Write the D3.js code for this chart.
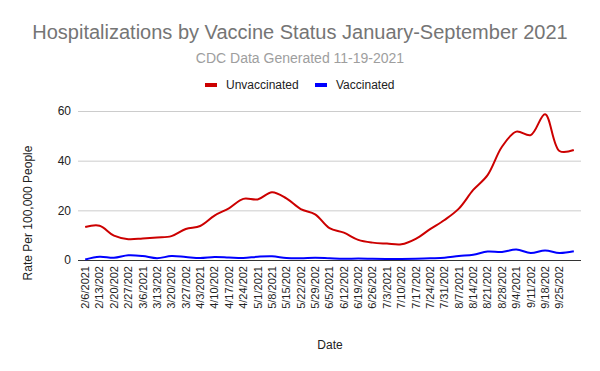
<!DOCTYPE html>
<html>
<head>
<meta charset="utf-8">
<script src="https://cdn.jsdelivr.net/npm/d3@7"></script>
<style>
  html, body { margin: 0; padding: 0; background: #fff; }
  svg { display: block; font-family: Arial, "Liberation Sans", sans-serif; }
</style>
</head>
<body>
<svg id="chart" width="600" height="371"></svg>
<script>
// weekly CDC dates (last week has no label on the axis)
const dates = [
  "2/6/2021", "2/13/2021", "2/20/2021", "2/27/2021", "3/6/2021", "3/13/2021", "3/20/2021",
  "3/27/2021", "4/3/2021", "4/10/2021", "4/17/2021", "4/24/2021", "5/1/2021", "5/8/2021",
  "5/15/2021", "5/22/2021", "5/29/2021", "6/5/2021", "6/12/2021", "6/19/2021", "6/26/2021",
  "7/3/2021", "7/10/2021", "7/17/2021", "7/24/2021", "7/31/2021", "8/7/2021", "8/14/2021",
  "8/21/2021", "8/28/2021", "9/4/2021", "9/11/2021", "9/18/2021", "9/25/2021", "10/2/2021"
];

const unvaccinated = [
  13.3, 13.8, 9.8, 8.4, 8.7, 9.1, 9.6, 12.5, 13.7, 17.9, 20.8, 24.6, 24.4, 27.3, 24.8,
  20.5, 18.4, 12.8, 11.0, 8.1, 7.0, 6.6, 6.3, 8.5, 12.4, 16.1, 20.7, 28.2, 34.2, 45.6,
  51.7, 50.3, 58.7, 43.9, 44.3
];

const vaccinated = [
  0.2, 1.3, 0.9, 1.9, 1.6, 0.7, 1.6, 1.2, 0.8, 1.2, 1.0, 0.8, 1.3, 1.5, 0.8,
  0.7, 0.9, 0.7, 0.5, 0.6, 0.5, 0.4, 0.4, 0.5, 0.7, 0.9, 1.6, 2.1, 3.4, 3.2,
  4.2, 2.8, 3.8, 2.8, 3.5
];

const yTicks = [0, 20, 40, 60];

const seriesList = [
  { name: "Unvaccinated", values: unvaccinated, color: "#cc0000" },
  { name: "Vaccinated", values: vaccinated, color: "#0000ff" }
];

(function () {
  const svg = d3.select("#chart");

  const plot = { left: 78, right: 581, top: 111, bottom: 260 };

  const x = d3.scaleBand()
    .domain(dates)
    .range([plot.left, plot.right]);

  const y = d3.scaleLinear()
    .domain([0, 60])
    .range([plot.bottom, plot.top]);

  // 標題
  svg.append("text")
    .attr("x", 300).attr("y", 39)
    .attr("text-anchor", "middle")
    .attr("font-size", 20)
    .attr("fill", "#757575")
    .text("Hospitalizations by Vaccine Status January-September 2021");

  svg.append("text")
    .attr("x", 300).attr("y", 63)
    .attr("text-anchor", "middle")
    .attr("font-size", 14)
    .attr("fill", "#9e9e9e")
    .text("CDC Data Generated 11-19-2021");

  // legend
  const legendPos = [205, 315];
  const legend = svg.append("g").attr("class", "legend");
  seriesList.forEach((s, i) => {
    const g = legend.append("g").attr("transform", `translate(${legendPos[i]},85)`);
    g.append("rect")
      .attr("x", 0).attr("y", -2)
      .attr("width", 12).attr("height", 4)
      .attr("fill", s.color);
    g.append("text")
      .attr("x", 21).attr("y", 0)
      .attr("dy", "0.35em")
      .attr("font-size", 12)
      .attr("fill", "#222")
      .text(s.name);
  });

  // gridlines + y labels
  const yAxis = svg.append("g")
    .attr("transform", `translate(${plot.left},0)`)
    .call(d3.axisLeft(y).tickValues(yTicks).tickSize(-(plot.right - plot.left)).tickPadding(7));
  yAxis.select(".domain").remove();
  yAxis.selectAll(".tick line").attr("stroke", "#cccccc");
  yAxis.selectAll(".tick text")
    .attr("font-size", 12)
    .attr("font-family", "Arial, 'Liberation Sans', sans-serif")
    .attr("fill", "#222");

  // x axis, 標籤旋轉 + 截斷
  const xAxis = svg.append("g")
    .attr("transform", `translate(0,${plot.bottom})`)
    .call(d3.axisBottom(x)
      .tickValues(dates.slice(0, -1))
      .tickSize(0)
      .tickFormat(d => d.slice(0, 8)));
  xAxis.select(".domain")
    .attr("stroke", "#333")
    .attr("d", `M${plot.left},0.5H${plot.right}`);
  xAxis.selectAll(".tick text")
    .attr("font-size", 11)
    .attr("font-family", "Arial, 'Liberation Sans', sans-serif")
    .attr("fill", "#222")
    .attr("text-anchor", "end")
    .attr("transform", "rotate(-90)")
    .attr("x", -6)
    .attr("y", 0)
    .attr("dy", "0.35em");

  // axis titles
  svg.append("text")
    .attr("x", 330).attr("y", 349)
    .attr("text-anchor", "middle")
    .attr("font-size", 12)
    .attr("fill", "#222")
    .text("Date");

  svg.append("text")
    .attr("transform", "translate(32,213) rotate(-90)")
    .attr("text-anchor", "middle")
    .attr("font-size", 12)
    .attr("fill", "#222")
    .text("Rate Per 100,000 People");

  // lines
  const line = d3.line()
    .x((d, i) => x(dates[i]) + x.bandwidth() / 2)
    .y(d => y(d))
    .curve(d3.curveCatmullRom.alpha(0.5));

  svg.append("g").attr("class", "series")
    .selectAll("path")
    .data(seriesList.slice().reverse())
    .enter()
    .append("path")
    .attr("fill", "none")
    .attr("stroke", d => d.color)
    .attr("stroke-width", 2)
    .attr("stroke-linejoin", "round")
    .attr("d", d => line(d.values));
})();
</script>
</body>
</html>
